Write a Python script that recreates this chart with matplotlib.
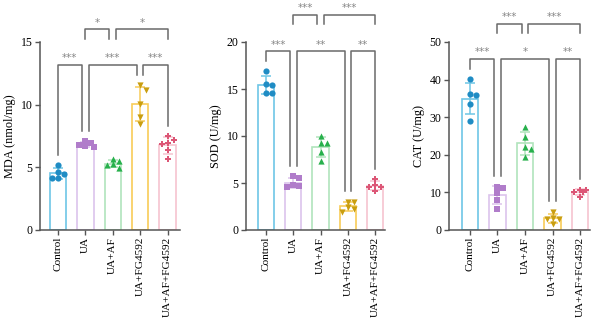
import numpy as np
import matplotlib
matplotlib.use("Agg")
import matplotlib.pyplot as plt

plt.rcParams['font.family'] = ['Liberation Serif', 'DejaVu Serif']

groups = ["Control", "UA", "UA+AF", "UA+FG4592", "UA+AF+FG4592"]

mda = [
    [5.16, 4.17, 4.47, 4.65, 4.15],
    [7.08, 6.70, 6.92, 6.62, 6.78],
    [5.50, 5.64, 4.93, 5.19, 5.24],
    [11.57, 11.20, 10.05, 9.04, 8.44],
    [7.16, 7.50, 6.84, 6.97, 6.38, 5.64],
]
sod = [
    [16.9, 15.4, 15.5, 14.6, 14.6],
    [5.74, 5.50, 4.54, 4.75, 4.68],
    [10.0, 9.3, 9.3, 8.3, 7.3],
    [3.0, 3.0, 2.4, 1.95, 2.2],
    [5.4, 4.8, 4.6, 4.55, 4.1],
]
cat = [
    [40.1, 35.8, 36.3, 33.5, 29.1],
    [11.5, 11.3, 9.8, 8.0, 5.7],
    [27.3, 24.8, 22.2, 21.5, 19.3],
    [4.9, 3.0, 3.1, 2.9, 1.7],
    [10.6, 10.2, 10.6, 10.0, 8.7],
]

mda_sig = [[(0, 1, '***'), (1, 3, '***'), (3, 4, '***')],
           [(1, 2, '*'), (2, 4, '*')]]
sod_sig = [[(0, 1, '***'), (1, 3, '**'), (3, 4, '**')],
           [(1, 2, '***'), (2, 4, '***')]]
cat_sig = [[(0, 1, '***'), (1, 3, '*'), (3, 4, '**')],
           [(1, 2, '***'), (2, 4, '***')]]

edge_colors = ['#6ec6e6', '#dcc4ec', '#b0e4bc', '#f8cc58', '#f6c4d0']
dot_colors = ['#1f8cc4', '#b07cca', '#27b04c', '#c99e10', '#dc5676']
markers = ['o', 's', '^', 'v', 'P']
line_gray = '#6a6a6a'


def swarm(ax, x0, vals, step_px, min_px):
    # small beeswarm kept inside the bar
    trans = ax.transData
    order = np.argsort(vals)[::-1]
    px_per_x = trans.transform((1, 0))[0] - trans.transform((0, 0))[0]
    step = step_px / px_per_x
    placed = []
    xs = np.zeros(len(vals))
    for i in order:
        best, best_d = 0, -1
        for k in [0, 1, -1, 0.5, -0.5, 1.5, -1.5]:
            cand = x0 + k * step
            p = trans.transform((cand, vals[i]))
            d = min([np.hypot(*(p - q)) for q in placed] + [99])
            if d >= min_px:
                best = cand
                break
            if d > best_d:
                best, best_d = cand, d
        placed.append(trans.transform((best, vals[i])))
        xs[i] = best
    return xs


def panel(ax, data, ylabel, ymax, yticks, xlim, sig, lev1, lev2):
    ax.set_xlim(*xlim)
    ax.set_ylim(0, ymax)
    x = np.arange(len(groups))
    means = [np.mean(v) for v in data]
    sds = [np.std(v, ddof=1) for v in data]
    ax.bar(x, means, width=0.6, color='white', edgecolor=edge_colors,
           linewidth=1.2, zorder=2)
    for i in range(len(groups)):
        ax.errorbar(x[i], means[i], yerr=sds[i], color=edge_colors[i],
                    capsize=3.4, elinewidth=1.1, capthick=1.1, zorder=3)
        xs = swarm(ax, x[i], np.array(data[i]), 6.0, 5.0)
        ax.scatter(xs, data[i], marker=markers[i], s=20, color=dot_colors[i],
                   linewidths=0, zorder=4, clip_on=False)

    tops = [max(max(v), m + s) for v, m, s in zip(data, means, sds)]
    pad = 0.055 * ymax
    shift = 0.12
    for lvl, (items, y_line) in enumerate(zip(sig, [lev1, lev2])):
        for a, b, txt in items:
            xa, xb = a, b
            if any(c == a for _, c, _ in items):
                xa += shift
            if any(c == b for c, _, _ in items):
                xb -= shift
            if lvl == 0:
                # legs run down to just above the data
                ya, yb = tops[a] + pad, tops[b] + pad
            else:
                ya = yb = y_line - 0.05 * ymax
            ax.plot([xa, xa, xb, xb], [ya, y_line, y_line, yb],
                    color=line_gray, lw=1.1, clip_on=False, zorder=1)
            ax.text((xa + xb) / 2, y_line + 0.01 * ymax, txt, ha='center',
                    va='bottom', fontsize=7.5, color='#888888',
                    family='DejaVu Sans')

    ax.set_yticks(yticks)
    ax.set_xticks(x)
    ax.set_xticklabels(groups, rotation=90, fontsize=8.1)
    ax.tick_params(axis='y', labelsize=8.5, length=3.5, width=1,
                   color='#555555', pad=2)
    ax.tick_params(axis='x', length=3.5, width=1, color='#555555', pad=1.5)
    ax.set_ylabel(ylabel, fontsize=8.8, labelpad=3)
    for s in ['top', 'right']:
        ax.spines[s].set_visible(False)
    for s in ['left', 'bottom']:
        ax.spines[s].set_color('#555555')
        ax.spines[s].set_linewidth(1.1)


fig = plt.figure(figsize=(6, 3.2), dpi=100)
bottom = 90 / 320
height = 188 / 320
ax1 = fig.add_axes([40 / 600, bottom, 140 / 600, height])
ax2 = fig.add_axes([246 / 600, bottom, 139 / 600, height])
ax3 = fig.add_axes([449 / 600, bottom, 141 / 600, height])

panel(ax1, mda, "MDA (nmol/mg)", 15, [0, 5, 10, 15], (-0.65, 4.45),
      mda_sig, 13.2, 16.0)
panel(ax2, sod, "SOD (U/mg)", 20, [0, 5, 10, 15, 20], (-0.73, 4.36),
      sod_sig, 19.0, 22.9)
panel(ax3, cat, "CAT (U/mg)", 50, [0, 10, 20, 30, 40, 50], (-0.76, 4.36),
      cat_sig, 45.4, 54.8)

fig.savefig("out.png", dpi=100)
